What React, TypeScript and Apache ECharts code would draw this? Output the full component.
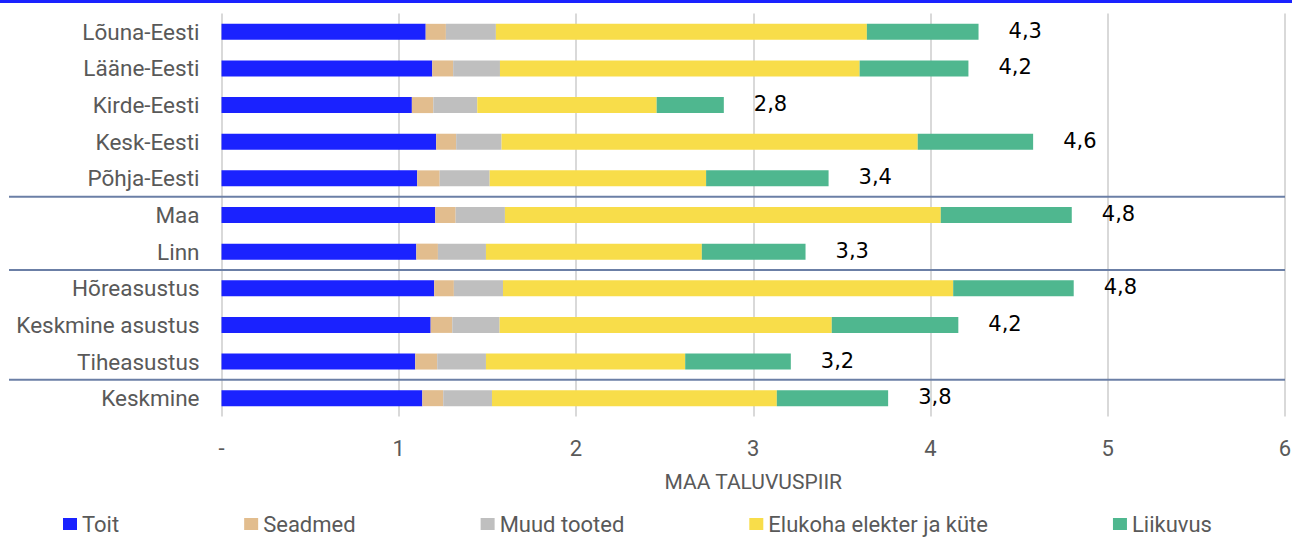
import React, { useEffect, useRef } from "react";
import * as echarts from "echarts";

const categories = [
  "Lõuna-Eesti",
  "Lääne-Eesti",
  "Kirde-Eesti",
  "Kesk-Eesti",
  "Põhja-Eesti",
  "Maa",
  "Linn",
  "Hõreasustus",
  "Keskmine asustus",
  "Tiheasustus",
  "Keskmine",
];

const toit = [1.152, 1.189, 1.074, 1.211, 1.104, 1.206, 1.099, 1.2, 1.18, 1.093, 1.133];
const seadmed = [0.114, 0.118, 0.121, 0.113, 0.127, 0.115, 0.122, 0.111, 0.122, 0.124, 0.118];
const muudTooted = [0.282, 0.264, 0.248, 0.256, 0.282, 0.278, 0.271, 0.277, 0.267, 0.275, 0.275];
const elukoha = [2.093, 2.029, 1.012, 2.348, 1.221, 2.459, 1.218, 2.54, 1.874, 1.124, 1.607];
const liikuvus = [0.63, 0.614, 0.379, 0.651, 0.691, 0.739, 0.585, 0.68, 0.714, 0.596, 0.628];

const seriesNames = ["Toit", "Seadmed", "Muud tooted", "Elukoha elekter ja küte", "Liikuvus"];
const seriesColors = ["#1a22ff", "#e2bd8e", "#bfbfbf", "#f8dd4a", "#4fb78f"];

const xTicks = [0, 1, 2, 3, 4, 5, 6];
const axisTitle = "MAA TALUVUSPIIR";

// groups are separated after these categories
const separatorsAfter = ["Põhja-Eesti", "Linn", "Tiheasustus"];

export default function App() {
  const ref = useRef<HTMLDivElement>(null);

  useEffect(() => {
    document.body.style.margin = "0";
    if (!ref.current) return;
    const chart = echarts.init(ref.current, undefined, { renderer: "svg" });

    const values = [toit, seadmed, muudTooted, elukoha, liikuvus];
    const totals = categories.map((_, i) =>
      values.reduce((s, arr) => s + arr[i], 0)
    );

    const gray = "#595959";
    const font = "Roboto";

    const barSeries = seriesNames.map((name, si) => ({
      name,
      type: "bar",
      stack: "total",
      barWidth: 16,
      data: values[si],
      itemStyle: { color: seriesColors[si] },
      label:
        si === seriesNames.length - 1
          ? {
              show: true,
              position: "right",
              distance: 30,
              offset: [0, -1],
              formatter: (p: any) =>
                (Math.round(totals[p.dataIndex] * 10) / 10).toFixed(1).replace(".", ","),
              fontFamily: "DejaVu Sans",
              fontSize: 21,
              color: "#000",
            }
          : { show: false },
    }));

    const sepSeries = {
      type: "custom",
      name: "sep",
      silent: true,
      clip: false,
      z: 5,
      data: separatorsAfter.map((n) => [0, categories.indexOf(n)]),
      encode: { x: 0, y: 1 },
      renderItem: (params: any, api: any) => {
        const p = api.coord([0, api.value(1)]);
        const band = api.size([0, 1])[1];
        const y = p[1] + band / 2;
        const cs = params.coordSys;
        return {
          type: "line",
          shape: { x1: 9, y1: y, x2: cs.x + cs.width, y2: y },
          style: { stroke: "#6b7fa6", lineWidth: 2 },
        };
      },
    };

    chart.setOption({
      animation: false,
      backgroundColor: "#ffffff",
      textStyle: { fontFamily: font },
      graphic: [
        {
          type: "rect",
          left: 0,
          top: 0,
          shape: { width: 1292, height: 3 },
          style: { fill: "#1a22ff" },
        },
      ],
      grid: {
        left: 221.5,
        right: 7,
        top: 13.5,
        bottom: 121.5,
        containLabel: false,
        outerBoundsMode: "none",
      },
      legend: {
        data: seriesNames,
        left: 58,
        top: 508,
        icon: "rect",
        itemWidth: 14,
        itemHeight: 12,
        itemGap: 125,
        textStyle: { fontFamily: font, fontSize: 22, color: gray },
      },
      xAxis: {
        type: "value",
        min: xTicks[0],
        max: xTicks[xTicks.length - 1],
        interval: 1,
        name: axisTitle,
        nameLocation: "middle",
        nameGap: 55,
        nameTextStyle: { fontFamily: font, fontSize: 21, color: gray },
        axisLine: { show: false },
        axisTick: { show: false },
        axisLabel: {
          margin: 21,
          fontFamily: font,
          fontSize: 22,
          color: gray,
          formatter: (v: number) => (v === 0 ? "-" : String(v)),
        },
        splitLine: { show: true, lineStyle: { color: "#d9d9d9", width: 2 } },
      },
      yAxis: {
        type: "category",
        inverse: true,
        data: categories,
        axisLine: { show: false },
        axisTick: { show: false },
        axisLabel: { margin: 22, fontFamily: font, fontSize: 22.5, color: gray },
      },
      series: [...barSeries, sepSeries],
    });

    return () => chart.dispose();
  }, []);

  return <div ref={ref} style={{ width: 1292, height: 538 }} />;
}
